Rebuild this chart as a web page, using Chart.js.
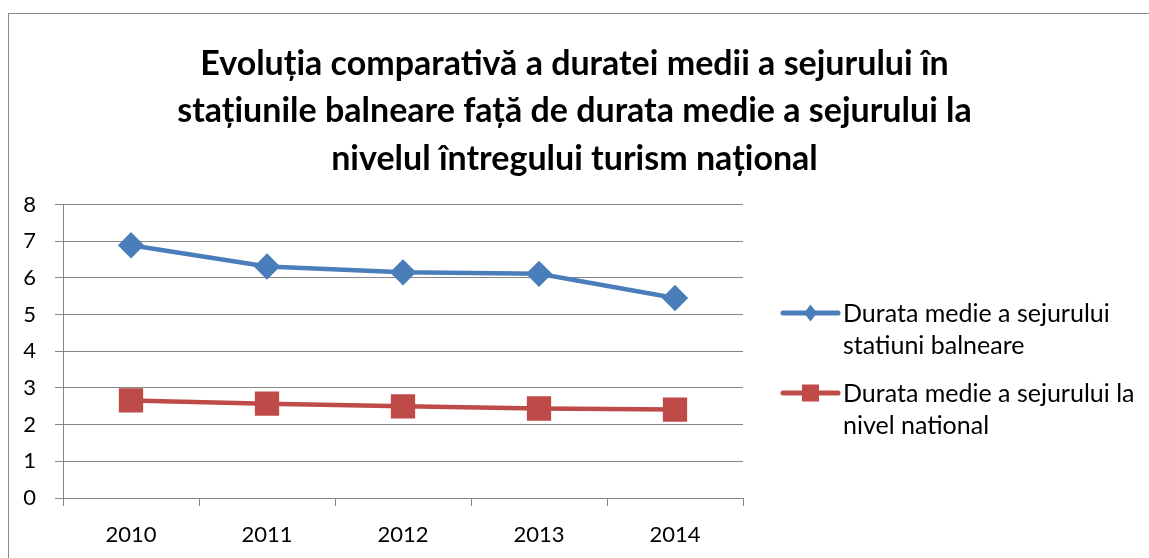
<!DOCTYPE html>
<html>
<head>
<meta charset="utf-8">
<script src="https://cdn.jsdelivr.net/npm/chart.js@4.4.1/dist/chart.umd.min.js"></script>
<style>
    html, body { margin: 0; padding: 0; background: #fff; overflow: hidden; }
    #wrap { position: relative; width: 1149px; height: 558px; }
    #frame { position: absolute; left: 8px; top: 13px; width: 1300px; height: 700px; border: 1px solid #8a8a8a; box-sizing: border-box; }
    canvas { position: absolute; left: 0; top: 0; }
</style>
</head>
<body>
<div id="wrap">
    <div id="frame"></div>
    <canvas id="chart" width="1149" height="558"></canvas>
</div>
<script>
// --- Data ---
const titleLines = [
    'Evoluția comparativă a duratei medii a sejurului în',
    'stațiunile balneare față de durata medie a sejurului la',
    'nivelul întregului turism național'
];
const years = ['2010', '2011', '2012', '2013', '2014'];
const spaValues = [6.89, 6.31, 6.15, 6.11, 5.45];
const nationalValues = [2.66, 2.57, 2.50, 2.44, 2.41];
const seriesNames = [
    'Durata medie a sejurului statiuni balneare',
    'Durata medie a sejurului la nivel national'
];
const yTicks = [0, 1, 2, 3, 4, 5, 6, 7, 8];

const FONT = 'Lato, "Open Sans", sans-serif';
const GRID = '#868686';
const LEGEND_WIDTH = 406;

// --- Legend drawn at the right side, with wrapped labels ---
const sideLegend = {
    id: 'sideLegend',
    afterDraw(chart) {
        const ctx = chart.ctx;
        const area = chart.chartArea;
        const x0 = area.right + 40;
        const lineLen = 55;
        const textX = x0 + lineLen + 5;
        const maxW = chart.width - textX - 8;
        ctx.save();
        ctx.font = `25px ${FONT}`;
        ctx.textBaseline = 'middle';
        chart.data.datasets.forEach((ds, i) => {
            const y = 313 + i * 80;
            // wrap label
            const words = ds.label.split(' ');
            const lines = [];
            let cur = '';
            words.forEach(w => {
                const test = cur ? cur + ' ' + w : w;
                if (ctx.measureText(test).width > maxW && cur) {
                    lines.push(cur);
                    cur = w;
                } else {
                    cur = test;
                }
            });
            lines.push(cur);

            ctx.strokeStyle = ds.borderColor;
            ctx.lineWidth = 5;
            ctx.lineCap = 'round';
            ctx.beginPath();
            ctx.moveTo(x0, y);
            ctx.lineTo(x0 + lineLen, y);
            ctx.stroke();

            ctx.fillStyle = ds.backgroundColor;
            const mx = x0 + lineLen / 2;
            ctx.beginPath();
            if (ds.pointStyle === 'rectRot') {
                ctx.moveTo(mx, y - 8.5);
                ctx.lineTo(mx + 6.5, y);
                ctx.lineTo(mx, y + 8.5);
                ctx.lineTo(mx - 6.5, y);
                ctx.closePath();
            } else {
                ctx.rect(mx - 8.5, y - 8.5, 17, 17);
            }
            ctx.fill();

            ctx.fillStyle = '#000';
            lines.forEach((ln, j) => ctx.fillText(ln, textX, y + 1 + j * 32));
        });
        ctx.restore();
    }
};

new Chart(document.getElementById('chart'), {
    type: 'line',
    data: {
        labels: years,
        datasets: [
            {
                label: seriesNames[0],
                data: spaValues,
                borderColor: '#4A7EBB',
                backgroundColor: '#4A7EBB',
                borderWidth: 4.5,
                pointStyle: 'rectRot',
                pointRadius: 10,
                pointHoverRadius: 10,
                tension: 0
            },
            {
                label: seriesNames[1],
                data: nationalValues,
                borderColor: '#BE4B48',
                backgroundColor: '#BE4B48',
                borderWidth: 4.5,
                pointStyle: 'rect',
                pointRadius: 14,
                pointHoverRadius: 14,
                tension: 0
            }
        ]
    },
    options: {
        responsive: false,
        animation: false,
        layout: { padding: 0 },
        plugins: {
            legend: { display: false },
            tooltip: { enabled: false },
            title: {
                display: true,
                text: titleLines,
                color: '#000',
                font: { family: FONT, size: 34, weight: 'bold', lineHeight: '47.5px' },
                padding: { top: 40, bottom: 22 }
            }
        },
        scales: {
            x: {
                offset: true,
                grid: { offset: true, drawOnChartArea: false, drawTicks: true, tickLength: 8, color: GRID },
                border: { color: GRID, width: 1 },
                ticks: { color: '#000', font: { family: FONT, size: 22 }, padding: 16 },
                afterFit(scale) { scale.height = 60; }
            },
            y: {
                min: 0,
                max: 8,
                afterBuildTicks(scale) { scale.ticks = yTicks.map(v => ({ value: v })); },
                grid: { color: GRID, tickLength: 8 },
                border: { color: GRID, width: 1 },
                ticks: { color: '#000', font: { family: FONT, size: 22 }, padding: 19 },
                afterFit(scale) { scale.width = 63; }
            },
            // empty scale that keeps room for the legend on the right
            legendSpace: {
                type: 'linear',
                position: 'right',
                min: 0,
                max: 1,
                grid: { display: false },
                border: { display: false },
                ticks: { display: false },
                afterFit(scale) { scale.width = LEGEND_WIDTH; }
            }
        }
    },
    plugins: [sideLegend]
});
</script>
</body>
</html>
